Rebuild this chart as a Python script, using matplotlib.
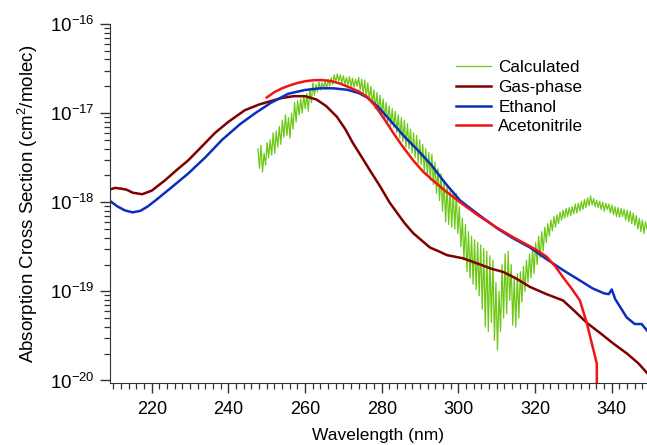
import matplotlib
matplotlib.use("Agg")
import matplotlib.pyplot as plt
import numpy as np
from matplotlib.ticker import MultipleLocator, LogLocator, NullFormatter

plt.rcParams['font.family'] = ['Liberation Sans', 'DejaVu Sans']
plt.rcParams['mathtext.fontset'] = 'custom'
plt.rcParams['mathtext.rm'] = 'Liberation Sans'
plt.rcParams['mathtext.it'] = 'Liberation Sans'
plt.rcParams['mathtext.bf'] = 'Liberation Sans'
plt.rcParams['axes.unicode_minus'] = False

# Gas-phase spectrum (nm, cm^2/molec)
gas_wl = [209.3, 210.5, 212.0, 213.5, 215.0, 217.5, 220.0, 223.5, 226.5, 229.5,
          233.0, 236.5, 240.0, 244.3, 248.0, 251.4, 254.0, 257.0, 260.0, 263.0,
          265.5, 268.3, 270.5, 272.5, 275.0, 277.0, 279.6, 282.0, 284.0, 286.0,
          288.2, 290.5, 292.6, 295.0, 297.0, 301.2, 305.7, 308.5, 311.7, 315.0,
          318.7, 323.0, 327.3, 330.5, 333.6, 337.0, 340.4, 344.0, 347.0, 349.3]
gas_val = [1.40e-18, 1.45e-18, 1.42e-18, 1.38e-18, 1.28e-18, 1.23e-18, 1.35e-18, 1.77e-18, 2.3e-18, 2.95e-18,
           4.2e-18, 6.0e-18, 8.0e-18, 1.08e-17, 1.25e-17, 1.38e-17, 1.48e-17, 1.55e-17, 1.55e-17, 1.42e-17,
           1.2e-17, 9.1e-18, 6.6e-18, 4.6e-18, 3.1e-18, 2.25e-18, 1.5e-18, 1.0e-18, 7.6e-19, 5.8e-19,
           4.5e-19, 3.7e-19, 3.1e-19, 2.8e-19, 2.55e-19, 2.35e-19, 2.0e-19, 1.8e-19, 1.65e-19, 1.4e-19,
           1.12e-19, 9.3e-20, 7.9e-20, 5.9e-20, 4.4e-20, 3.4e-20, 2.6e-20, 2.0e-20, 1.55e-20, 1.2e-20]

# Ethanol
eth_wl = [209.3, 211.0, 213.0, 215.0, 217.0, 219.0, 221.0, 225.0, 229.5, 234.0,
          238.3, 243.0, 247.0, 251.0, 255.6, 260.0, 264.0, 267.3, 271.0, 274.0,
          276.2, 279.0, 282.2, 286.0, 289.5, 293.0, 296.5, 300.4, 305.0, 310.1,
          314.0, 318.7, 323.0, 327.3, 332.0, 335.0, 338.0, 339.2, 340.0, 340.9,
          343.9, 346.0, 347.8, 349.3]
eth_val = [1.02e-18, 9.0e-19, 8.1e-19, 7.7e-19, 8.0e-19, 9.0e-19, 1.05e-18, 1.45e-18, 2.1e-18, 3.2e-18,
           5.0e-18, 7.5e-18, 1.0e-17, 1.3e-17, 1.65e-17, 1.82e-17, 1.9e-17, 1.9e-17, 1.83e-17, 1.68e-17,
           1.5e-17, 1.18e-17, 8.3e-18, 5.4e-18, 3.8e-18, 2.6e-18, 1.65e-18, 1.05e-18, 7.4e-19, 5.1e-19,
           4.0e-19, 3.1e-19, 2.3e-19, 1.73e-19, 1.3e-19, 1.08e-19, 9.5e-20, 9.3e-20, 1.05e-19, 8.2e-20,
           5.1e-20, 4.3e-20, 4.3e-20, 3.6e-20]

# Acetonitrile
ace_wl = [250.0, 252.0, 254.0, 256.0, 258.0, 260.0, 262.2, 264.5, 267.0, 269.1,
          271.5, 274.0, 276.1, 278.0, 279.6, 281.3, 283.0, 285.5, 288.2, 290.8,
          293.4, 296.5, 300.4, 305.0, 310.0, 314.5, 318.7, 321.0, 323.0, 325.3,
          327.3, 329.5, 331.7, 333.5, 336.1, 336.2]
ace_val = [1.5e-17, 1.72e-17, 1.9e-17, 2.05e-17, 2.18e-17, 2.28e-17, 2.34e-17, 2.35e-17, 2.28e-17, 2.15e-17,
           1.95e-17, 1.75e-17, 1.53e-17, 1.25e-17, 1.0e-17, 7.8e-18, 6.0e-18, 4.2e-18, 2.95e-18, 2.2e-18,
           1.75e-18, 1.35e-18, 1.0e-18, 7.2e-19, 5.2e-19, 4.0e-19, 3.2e-19, 2.8e-19, 2.45e-19, 1.9e-19,
           1.44e-19, 1.08e-19, 7.9e-20, 4.4e-20, 1.55e-20, 1e-21]

# Calculated spectrum, log10 of cross section, evenly spaced 247.7 .. 349.2 nm
calc_start, calc_end = 247.7, 349.2
calc_log = [
    -17.40, -17.62, -17.36, -17.66, -17.45, -17.58, -17.33, -17.50, -17.30, -17.47,
    -17.22, -17.45, -17.20, -17.38, -17.15, -17.35, -17.08, -17.27, -17.02, -17.25,
    -17.05, -17.28, -17.00, -17.18, -16.88, -17.10, -16.86, -17.02, -16.84, -17.00,
    -16.80, -16.95, -16.78, -16.98, -16.72, -16.88, -16.66, -16.80, -16.68, -16.76,
    -16.65, -16.74, -16.66, -16.72, -16.64, -16.73, -16.62, -16.70, -16.60, -16.68,
    -16.57, -16.65, -16.56, -16.64, -16.57, -16.66, -16.58, -16.68, -16.60, -16.69,
    -16.59, -16.70, -16.61, -16.71, -16.62, -16.70, -16.60, -16.74, -16.62, -16.78,
    -16.63, -16.82, -16.66, -16.85, -16.70, -16.90, -16.74, -16.95, -16.77, -16.98,
    -16.80, -17.02, -16.84, -17.06, -16.88, -17.10, -16.92, -17.14, -16.95, -17.16,
    -16.98, -17.22, -17.02, -17.28, -17.05, -17.32, -17.08, -17.38, -17.12, -17.40,
    -17.18, -17.45, -17.22, -17.50, -17.25, -17.56, -17.30, -17.58, -17.35, -17.65,
    -17.40, -17.70, -17.44, -17.75, -17.46, -17.80, -17.55, -17.90, -17.62, -17.98,
    -17.68, -18.10, -17.75, -18.22, -17.80, -18.25, -17.85, -18.28, -17.88, -18.30,
    -17.90, -18.35, -18.05, -18.50, -18.18, -18.65, -18.25, -18.78, -18.33, -18.85,
    -18.38, -18.92, -18.42, -18.98, -18.45, -19.05, -18.48, -19.20, -18.52, -19.40,
    -18.55, -19.45, -18.60, -19.35, -18.65, -19.55, -18.90, -19.66, -19.00, -19.45,
    -18.70, -19.30, -18.58, -19.25, -18.55, -19.10, -18.70, -19.38, -18.85, -19.40,
    -18.80, -19.30, -18.78, -19.12, -18.72, -19.00, -18.65, -18.90, -18.58, -18.85,
    -18.52, -18.80, -18.45, -18.70, -18.38, -18.62, -18.33, -18.55, -18.28, -18.45,
    -18.24, -18.38, -18.20, -18.32, -18.16, -18.28, -18.14, -18.24, -18.11, -18.20,
    -18.09, -18.18, -18.07, -18.16, -18.06, -18.15, -18.05, -18.13, -18.02, -18.12,
    -18.01, -18.10, -17.99, -18.08, -17.97, -18.06, -17.95, -18.04, -17.93, -18.03,
    -17.96, -18.05, -17.98, -18.06, -17.99, -18.08, -18.00, -18.10, -18.01, -18.08,
    -18.02, -18.12, -18.03, -18.14, -18.05, -18.16, -18.06, -18.17, -18.07, -18.16,
    -18.08, -18.20, -18.09, -18.22, -18.10, -18.24, -18.12, -18.26, -18.15, -18.30,
    -18.18, -18.33, -18.20, -18.35, -18.22, -18.30]
calc_wl = np.linspace(calc_start, calc_end, len(calc_log))
calc_val = 10.0 ** np.array(calc_log)

fig = plt.figure(figsize=(6.47, 4.45), dpi=100)
ax = fig.add_axes([0.170, 0.139, 0.830, 0.807])

ax.plot(calc_wl, calc_val, color='#6cc814', lw=0.9, label='Calculated')
ax.plot(gas_wl, gas_val, color='#800000', lw=1.8, label='Gas-phase')
ax.plot(eth_wl, eth_val, color='#0a2fc0', lw=1.8, label='Ethanol')
ax.plot(ace_wl, ace_val, color='#f01414', lw=1.8, label='Acetonitrile')

ax.set_yscale('log')
ax.set_xlim(209.1, 349.2)
ax.set_ylim(10 ** -20.03, 1e-16)

ax.spines['top'].set_visible(False)
ax.spines['right'].set_visible(False)

ax.xaxis.set_major_locator(MultipleLocator(20))
ax.xaxis.set_minor_locator(MultipleLocator(2))
ax.yaxis.set_major_locator(LogLocator(base=10, numticks=10))
ax.yaxis.set_minor_locator(LogLocator(base=10, subs=np.arange(2, 10), numticks=20))
ax.yaxis.set_minor_formatter(NullFormatter())

ax.tick_params(which='major', direction='out', length=7, width=1, color='#333333')
ax.tick_params(axis='x', which='major', labelsize=13, pad=6)
ax.tick_params(axis='y', which='major', labelsize=13.5, pad=4)
ax.tick_params(which='minor', direction='out', length=4, width=0.9, color='#333333')
for s in ('left', 'bottom'):
    ax.spines[s].set_color('#333333')

ax.set_xlabel('Wavelength (nm)', fontsize=12.5, labelpad=7)
ax.set_ylabel('Absorption Cross Section (cm$^2$/molec)', fontsize=13.5, labelpad=7)

ax.legend(loc='upper left', bbox_to_anchor=(0.645, 0.9), frameon=False,
          fontsize=12.3, handlelength=2.0, handletextpad=0.45, labelspacing=0.28,
          borderpad=0, borderaxespad=0)

fig.savefig('out.png', dpi=100)
